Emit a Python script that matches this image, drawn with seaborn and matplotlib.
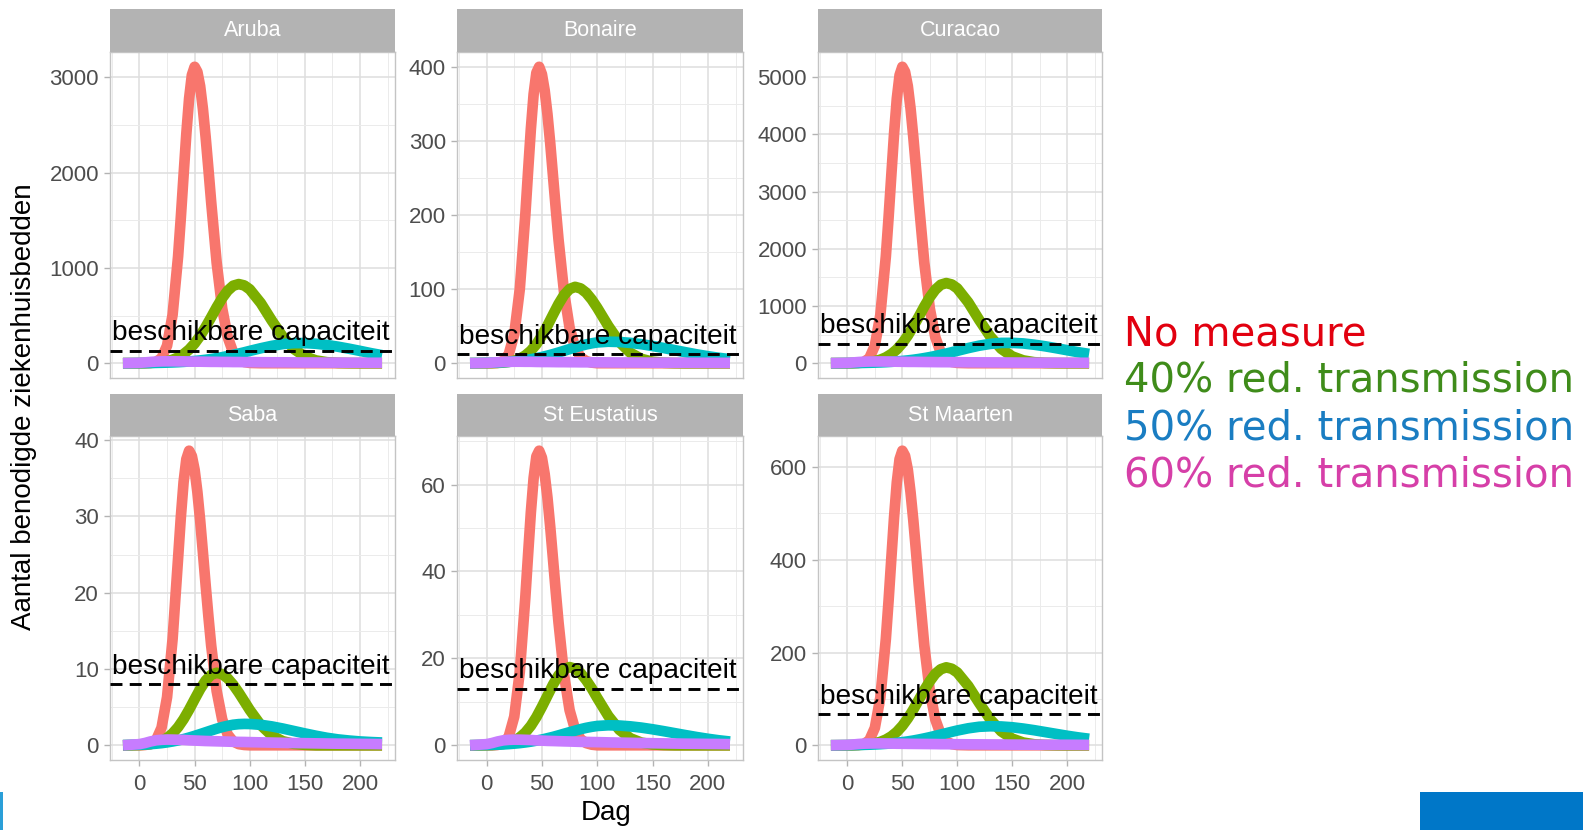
import matplotlib
matplotlib.use("Agg")
import matplotlib.pyplot as plt
import seaborn as sns
import pandas as pd
from matplotlib.patches import Rectangle

# ---------------- data ----------------
# day grid for the "No measure" curves (denser around the sharp peak)
days_red = [-15, 0, 5, 10, 15, 20, 25, 30, 35, 37.5, 40, 42.5, 45, 47.5, 50, 52.5, 55, 57.5, 60, 62.5, 65,
            70, 75, 80, 85, 90, 95, 100, 110, 120, 130, 140, 150, 160, 170, 180, 190, 200, 210, 220]
# day grid for the other scenarios
days = [-15, 0, 5, 10, 15, 20, 25, 30, 35, 40, 45, 50, 55, 60, 65, 70, 75, 80, 85, 90, 95, 100,
        110, 120, 130, 140, 150, 160, 170, 180, 190, 200, 210, 220]

islands = ["Aruba", "Bonaire", "Curacao", "Saba", "St Eustatius", "St Maarten"]
scenarios = ["No measure", "40% red. transmission", "50% red. transmission", "60% red. transmission"]

aruba_none = [0, 0, 0, 3, 12, 53, 184, 507, 1120, 1530, 1975, 2410, 2777, 3023, 3110, 3057, 2908, 2671, 2373, 2040, 1692,
              1054, 575, 274, 112, 40, 12, 3, 0, 0, 0, 0, 0, 0, 0, 0, 0, 0, 0, 0]
aruba_40 = [0, 0.7, 1.6, 3.2, 6.3, 11.8, 21, 36, 60, 95, 143, 207, 286, 380, 482, 587, 683, 761, 813, 830, 816, 775,
            631, 447, 277, 149, 71, 29, 10, 3.2, 0.9, 0.2, 0, 0]
aruba_50 = [0, 1.2, 1.7, 2.3, 3.3, 4.5, 6.1, 8.1, 10.7, 14, 18, 22.9, 28.7, 35.6, 43.7, 52.8, 63.2, 74.6, 87.1, 100.5, 114, 128.7,
            156.7, 181.7, 200.6, 210.7, 211, 204, 191, 173, 152, 129, 105, 84]
aruba_60 = [0, 4, 8, 13, 17, 19, 20, 20, 19, 19, 17, 16, 16, 15, 14, 14, 13, 13, 12, 12, 11, 11,
            10, 9, 9, 8, 7, 7, 6, 6, 5, 5, 4, 4]

bonaire_none = [0, 0, 0, 0.4, 2.8, 12, 39, 100, 200, 259, 316, 363, 392, 400, 390, 368, 336, 297, 253, 209, 167,
                96, 48, 21, 8, 2.8, 0.8, 0, 0, 0, 0, 0, 0, 0, 0, 0, 0, 0, 0, 0]
bonaire_40 = [0, 0.07, 0.18, 0.4, 0.85, 1.74, 3.3, 6.1, 10.4, 16.8, 25.6, 37.1, 50.7, 65.4, 79.8, 92.0, 100.1, 103, 100.9, 95.1, 86.0, 74.8,
              50.2, 28.6, 13.9, 5.8, 2.0, 0.6, 0.15, 0, 0, 0, 0, 0]
bonaire_50 = [0.13, 0.44, 0.64, 0.91, 1.27, 1.75, 2.38, 3.16, 4.14, 5.32, 6.72, 8.34, 10.2, 12.2, 14.4, 16.7, 19.0, 21.2, 23.4, 25.3, 26.8, 28.0,
              29, 28.6, 27.4, 25.6, 23.2, 20.5, 17.6, 14.7, 11.9, 9.4, 7.2, 5.4]
bonaire_60 = [0, 0.4, 0.8, 1.3, 1.7, 1.9, 2, 2, 1.9, 1.9, 1.7, 1.6, 1.6, 1.5, 1.4, 1.4, 1.3, 1.3, 1.2, 1.2, 1.1, 1.1,
              1.0, 0.9, 0.9, 0.8, 0.7, 0.7, 0.6, 0.6, 0.5, 0.5, 0.4, 0.4]

curacao_none = [0, 0, 0, 5, 21, 88, 306, 844, 1865, 2549, 3289, 4015, 4626, 5035, 5180, 5092, 4843, 4450, 3952, 3398, 2818,
                1756, 958, 456, 186, 67, 21, 5, 0, 0, 0, 0, 0, 0, 0, 0, 0, 0, 0, 0]
curacao_40 = [0, 1.3, 2.7, 5.5, 10.6, 20, 36, 61, 101, 160, 241, 349, 483, 641, 813, 990, 1152, 1284, 1371, 1400, 1376, 1308,
              1064, 755, 468, 252, 119, 49, 17, 5.5, 1.5, 0.4, 0, 0]
curacao_50 = [0, 2.1, 2.8, 3.9, 5.5, 7.6, 10.3, 13.6, 18, 23.5, 30.2, 38.6, 48.3, 59.8, 73.4, 88.8, 106, 125, 147, 168, 191, 216,
              264, 306, 337, 354, 355, 345, 323, 295, 262, 227, 192, 162]
curacao_60 = [0, 6, 12, 20, 26, 29, 30, 30, 29, 28, 26, 25, 23, 23, 22, 21, 20, 19, 18, 18, 17, 17,
              15, 14, 13, 12, 11, 10, 9, 8, 8, 7, 7, 6]

saba_none = [0, 0, 0.04, 0.15, 0.66, 2.3, 6.3, 13.9, 24.5, 29.9, 34.5, 37.5, 38.6, 37.9, 36.1, 33.2, 29.5, 25.3, 21.0, 16.9, 13.1,
             7.1, 3.4, 1.4, 0.5, 0.15, 0.04, 0, 0, 0, 0, 0, 0, 0, 0, 0, 0, 0, 0, 0]
saba_40 = [0, 0.04, 0.08, 0.16, 0.31, 0.56, 0.96, 1.55, 2.37, 3.42, 4.67, 6.03, 7.36, 8.48, 9.23, 9.5, 9.31, 8.77, 7.93, 6.90, 5.77, 4.63,
           2.64, 1.28, 0.53, 0.19, 0.06, 0, 0, 0, 0, 0, 0, 0]
saba_50 = [0.02, 0.07, 0.10, 0.15, 0.21, 0.28, 0.38, 0.50, 0.64, 0.81, 1.01, 1.23, 1.46, 1.70, 1.94, 2.17, 2.38, 2.55, 2.69, 2.77, 2.8, 2.79,
           2.68, 2.47, 2.19, 1.87, 1.55, 1.25, 0.98, 0.77, 0.62, 0.50, 0.42, 0.36]
saba_60 = [0, 0.15, 0.3, 0.5, 0.65, 0.72, 0.75, 0.74, 0.72, 0.70, 0.65, 0.62, 0.59, 0.56, 0.54, 0.52, 0.50, 0.48, 0.46, 0.44, 0.43, 0.41,
           0.38, 0.35, 0.32, 0.29, 0.27, 0.25, 0.23, 0.21, 0.2, 0.18, 0.17, 0.15]

steus_none = [0, 0, 0, 0.07, 0.5, 2.0, 6.6, 16.9, 34.0, 43.9, 53.6, 61.5, 66.5, 67.8, 66.2, 62.4, 57.0, 50.3, 42.9, 35.4, 28.3,
              16.2, 8.1, 3.6, 1.4, 0.5, 0.14, 0, 0, 0, 0, 0, 0, 0, 0, 0, 0, 0, 0, 0]
steus_40 = [0, 0.03, 0.07, 0.15, 0.30, 0.58, 1.06, 1.81, 2.93, 4.48, 6.48, 8.86, 11.4, 13.95, 16.1, 17.5, 18, 17.6, 16.6, 15.0, 13.1, 10.9,
            6.75, 3.56, 1.6, 0.61, 0.2, 0.06, 0, 0, 0, 0, 0, 0]
steus_50 = [0.02, 0.07, 0.10, 0.14, 0.20, 0.28, 0.38, 0.50, 0.66, 0.84, 1.07, 1.32, 1.62, 1.93, 2.28, 2.65, 3.01, 3.36, 3.71, 4.01, 4.25, 4.44,
            4.6, 4.54, 4.35, 4.06, 3.68, 3.25, 2.79, 2.33, 1.89, 1.49, 1.14, 0.86]
steus_60 = [0, 0.26, 0.52, 0.87, 1.13, 1.25, 1.3, 1.29, 1.25, 1.21, 1.12, 1.07, 1.01, 0.98, 0.94, 0.90, 0.87, 0.83, 0.79, 0.77, 0.74, 0.72,
            0.66, 0.61, 0.56, 0.51, 0.47, 0.43, 0.40, 0.36, 0.34, 0.31, 0.29, 0.26]

stmaarten_none = [0, 0, 0, 0.6, 2.5, 10.8, 37.5, 103, 229, 312, 403, 492, 567, 617, 635, 624, 594, 545, 485, 417, 345,
                  215, 117, 56, 23, 8, 2.5, 0.6, 0, 0, 0, 0, 0, 0, 0, 0, 0, 0, 0, 0]
stmaarten_40 = [0, 0.15, 0.3, 0.7, 1.3, 2.4, 4.3, 7.4, 12.2, 19.2, 28.9, 41.8, 58, 77, 98, 119, 138, 154, 164, 168, 165, 157,
                128, 91, 56, 30, 14.3, 5.9, 2.1, 0.7, 0.2, 0, 0, 0]
stmaarten_50 = [0.1, 0.34, 0.49, 0.69, 0.96, 1.33, 1.8, 2.41, 3.18, 4.13, 5.29, 6.68, 8.32, 10.2, 12.4, 14.8, 17.4, 20.2, 23.1, 26.0, 29.0, 31.8,
                36.6, 39.9, 41, 40.5, 38.8, 36, 32.5, 28.5, 24.5, 20.5, 17, 14]
stmaarten_60 = [0, 0.8, 1.6, 2.7, 3.5, 3.8, 4, 4, 3.8, 3.7, 3.4, 3.3, 3.1, 3.0, 2.9, 2.8, 2.7, 2.6, 2.4, 2.4, 2.3, 2.2,
                2.0, 1.9, 1.7, 1.6, 1.4, 1.3, 1.2, 1.1, 1.0, 1.0, 0.9, 0.8]

capacity = [133, 12.5, 340, 8, 13, 67]

y_breaks = [[0, 1000, 2000, 3000],
            [0, 100, 200, 300, 400],
            [0, 1000, 2000, 3000, 4000, 5000],
            [0, 10, 20, 30, 40],
            [0, 20, 40, 60],
            [0, 200, 400, 600]]
x_breaks = [0, 50, 100, 150, 200]

series = {
    "Aruba": [aruba_none, aruba_40, aruba_50, aruba_60],
    "Bonaire": [bonaire_none, bonaire_40, bonaire_50, bonaire_60],
    "Curacao": [curacao_none, curacao_40, curacao_50, curacao_60],
    "Saba": [saba_none, saba_40, saba_50, saba_60],
    "St Eustatius": [steus_none, steus_40, steus_50, steus_60],
    "St Maarten": [stmaarten_none, stmaarten_40, stmaarten_50, stmaarten_60],
}

rows = []
for isl in islands:
    for k, (sc, vals) in enumerate(zip(scenarios, series[isl])):
        grid = days_red if k == 0 else days
        for d, v in zip(grid, vals):
            rows.append((isl, sc, d, v))
df = pd.DataFrame(rows, columns=["island", "scenario", "day", "value"])

# ---------------- style ----------------
sns.set_theme(style="white")
plt.rcParams["font.family"] = ["Liberation Sans", "DejaVu Sans"]

line_palette = {scenarios[0]: "#F8766D", scenarios[1]: "#7CAE00",
                scenarios[2]: "#00BFC4", scenarios[3]: "#C77CFF"}
legend_colors = ["#E2000F", "#3F8C1A", "#1A7DC2", "#D63FA8"]

W, H = 1583, 830
fig = plt.figure(figsize=(W / 100, H / 100), dpi=100)
fig.patch.set_facecolor("white")

col_x = [(110, 395), (457, 743), (818, 1102)]
row_y = [(52, 378), (436, 760)]
strip_y = [(9, 52), (394, 436)]


def rect(x0, x1, y0, y1):
    return [x0 / W, 1 - y1 / H, (x1 - x0) / W, (y1 - y0) / H]


xmin, xmax = min(days), max(days)
xpad = 0.05 * (xmax - xmin)
xlo, xhi = xmin - xpad, xmax + xpad

for i, isl in enumerate(islands):
    r, c = divmod(i, 3)
    ax = fig.add_axes(rect(col_x[c][0], col_x[c][1], row_y[r][0], row_y[r][1]))
    sub = df[df.island == isl]
    sns.lineplot(data=sub, x="day", y="value", hue="scenario", hue_order=scenarios,
                 palette=line_palette, linewidth=7.7, legend=False, ax=ax,
                 estimator=None, sort=False)
    for ln in ax.lines:
        ln.set_solid_capstyle("butt")
        ln.set_solid_joinstyle("round")
    cap = capacity[i]
    ax.axhline(cap, color="black", lw=2.1, ls=(0, (4.1, 2.5)), zorder=5)
    ax.annotate("beschikbare capaciteit", xy=(-25.3, cap), xytext=(0, 7.5),
                textcoords="offset points", ha="left", va="baseline",
                fontsize=20.2, color="black", zorder=6)

    ymax = max(sub.value.max(), cap)
    ylo, yhi = -0.05 * ymax, ymax * 1.05

    yb = y_breaks[i]
    step = yb[1] - yb[0]
    ax.set_yticks(yb)
    ax.set_yticklabels([str(v) for v in yb])
    yminor = [v + step / 2 for v in [yb[0] - step] + yb]
    yminor = [v for v in yminor if ylo <= v <= yhi]
    ax.set_yticks(yminor, minor=True)
    ax.set_xticks(x_breaks)
    xminor = [v for v in [-25, 25, 75, 125, 175, 225] if xlo <= v <= xhi]
    ax.set_xticks(xminor, minor=True)
    ax.set_xlim(xlo, xhi)
    ax.set_ylim(ylo, yhi)
    ax.set_xlabel("")
    ax.set_ylabel("")

    ax.grid(which="major", color="#DEDEDE", lw=1.1)
    ax.grid(which="minor", color="#EBEBEB", lw=0.7)
    ax.set_axisbelow(True)
    for sp in ax.spines.values():
        sp.set_color("#C4C4C4")
        sp.set_linewidth(1.0)
    ax.tick_params(which="minor", length=0)
    ax.tick_params(axis="y", which="major", left=True, length=4, width=1, color="#B3B3B3",
                   labelsize=16, labelcolor="#4D4D4D", pad=4)
    if r == 1:
        ax.tick_params(axis="x", which="major", bottom=True, length=4, width=1, color="#B3B3B3",
                       labelsize=16, labelcolor="#4D4D4D", pad=6)
        ax.set_xticklabels([str(v) for v in x_breaks])
    else:
        ax.tick_params(axis="x", which="major", bottom=False, labelbottom=False)

    sax = fig.add_axes(rect(col_x[c][0], col_x[c][1], strip_y[r][0], strip_y[r][1]))
    sax.set_facecolor("#B3B3B3")
    sax.set_xticks([])
    sax.set_yticks([])
    for sp in sax.spines.values():
        sp.set_visible(False)
    sax.text(0.5, 0.5, isl, ha="center", va="center", color="white", fontsize=15.5,
             transform=sax.transAxes)

fig.text(24 / W, 1 - 407 / H, "Aantal benodigde ziekenhuisbedden", rotation=90,
         ha="center", va="center", fontsize=20, color="black")
fig.text(606 / W, 1 - 813 / H, "Dag", ha="center", va="center", fontsize=20, color="black")

baselines = [345, 392, 439, 486]
for lab, col, yb_ in zip(scenarios, legend_colors, baselines):
    fig.text(1124 / W, 1 - yb_ / H, lab, ha="left", va="baseline", fontsize=28.9,
             color=col, family=["DejaVu Sans"])

fig.add_artist(Rectangle((1420 / W, 0), (W - 1420) / W, 38 / H, transform=fig.transFigure,
                         facecolor="#0077C8", edgecolor="none"))
fig.add_artist(Rectangle((0, 0), 2.5 / W, 38 / H, transform=fig.transFigure,
                         facecolor="#2A9FD8", edgecolor="none"))

fig.savefig("out.png", dpi=100, facecolor="white")
